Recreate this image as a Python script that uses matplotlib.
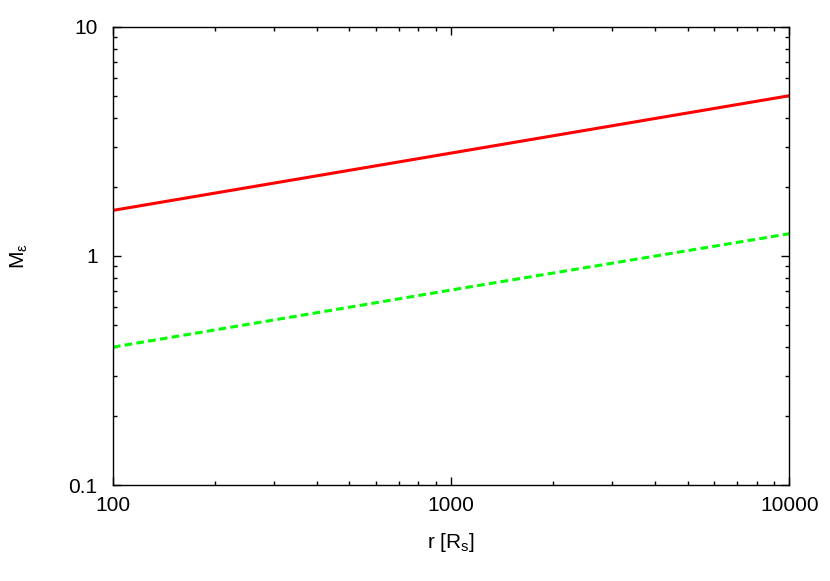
import matplotlib
matplotlib.use("Agg")
import matplotlib.pyplot as plt
from matplotlib.ticker import FixedLocator, FixedFormatter, LogLocator, NullFormatter

plt.rcParams['font.family'] = ['Liberation Sans', 'DejaVu Sans']
plt.rcParams['mathtext.fontset'] = 'custom'
plt.rcParams['mathtext.rm'] = 'Liberation Sans'
plt.rcParams['mathtext.it'] = 'Liberation Sans:italic'

# radius in Schwarzschild radii
r = [100, 1000, 10000]
m_red = [1.58, 2.81, 5.0]
m_green = [0.40, 0.71, 1.25]

xticks = [100, 1000, 10000]
xtick_labels = ['100', '1000', '10000']
yticks = [0.1, 1, 10]
ytick_labels = ['0.1', '1', '10']

fig = plt.figure(figsize=(8.3, 5.81), dpi=100)
ax = fig.add_axes([0.136, 0.165, 0.815, 0.789])

ax.plot(r, m_red, color='#ff0000', lw=2.2, linestyle='-')
ax.plot(r, m_green, color='#00ff00', lw=2.2, linestyle=(0, (2.5, 1.4)))

ax.set_xscale('log')
ax.set_yscale('log')
ax.set_xlim(100, 10000)
ax.set_ylim(0.1, 10)

ax.xaxis.set_major_locator(FixedLocator(xticks))
ax.xaxis.set_major_formatter(FixedFormatter(xtick_labels))
ax.yaxis.set_major_locator(FixedLocator(yticks))
ax.yaxis.set_major_formatter(FixedFormatter(ytick_labels))
ax.xaxis.set_minor_locator(LogLocator(base=10, subs=range(2, 10)))
ax.yaxis.set_minor_locator(LogLocator(base=10, subs=range(2, 10)))
ax.xaxis.set_minor_formatter(NullFormatter())
ax.yaxis.set_minor_formatter(NullFormatter())

ax.tick_params(which='both', direction='in', top=True, right=True, labelsize=15, colors='black')
ax.tick_params(which='major', length=5.5, width=1)
ax.tick_params(which='minor', length=3, width=1)
ax.tick_params(axis='x', which='major', pad=8)
ax.tick_params(axis='y', which='major', pad=11)
for s in ax.spines.values():
    s.set_linewidth(1.0)

ax.set_xlabel(r'r [R$_\mathrm{s}$]', fontsize=15)
ax.set_ylabel(r'M$_\mathrm{\varepsilon}$', fontsize=15)
ax.xaxis.set_label_coords(0.5, -0.1)
ax.yaxis.set_label_coords(-0.122, 0.5)

fig.savefig('out.png', dpi=100)
